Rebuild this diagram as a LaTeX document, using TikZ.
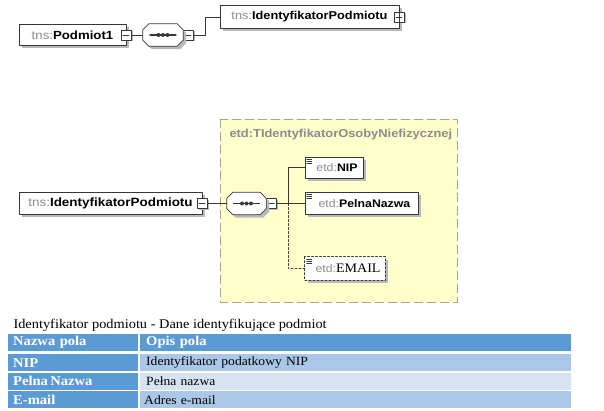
\documentclass[tikz,border=0pt]{standalone}
\usepackage{fontspec}
\setmainfont{Liberation Serif}
\newfontfamily\xsdfont[FakeStretch=1.12]{Liberation Sans}
\newfontfamily\tabfont[FakeStretch=1.08]{Liberation Serif}
\usepackage{tikz}
\usetikzlibrary{positioning}
\usetikzlibrary{shadows}

\definecolor{prefgray}{RGB}{140,140,140}
\definecolor{boxline}{RGB}{55,55,55}
\definecolor{shadowgray}{RGB}{185,185,185}
\definecolor{typeyellow}{RGB}{255,255,204}
\definecolor{typeborder}{RGB}{165,165,150}
\definecolor{hdrblue}{RGB}{91,155,213}
\definecolor{rowblue}{RGB}{170,199,232}
\definecolor{rowpale}{RGB}{213,227,243}

\tikzset{
  elem/.style={draw=boxline, line width=0.7pt, fill=white, minimum height=21pt, inner sep=0pt,
    font=\xsdfont\fontsize{11}{13}\selectfont,
    drop shadow={shadow xshift=3pt, shadow yshift=-3pt, fill=shadowgray, opacity=1}},
  seqbox/.style={minimum width=40pt, minimum height=22pt, inner sep=0pt},
  toggle/.style={draw=boxline, line width=0.7pt, fill=white, minimum size=10pt, inner sep=0pt,
    drop shadow={shadow xshift=1.5pt, shadow yshift=-1.5pt, fill=shadowgray, opacity=1}},
  conn/.style={draw=boxline, line width=0.7pt},
  headcell/.style={anchor=north west, fill=hdrblue, text=white, minimum height=17pt,
    inner ysep=0pt, align=left, font=\tabfont\fontsize{13.5}{14}\selectfont\bfseries},
  bodycell/.style={anchor=north west, minimum height=17pt, inner ysep=0pt, align=left,
    font=\tabfont\fontsize{12.6}{14}\selectfont}
}
\newcommand{\pref}[1]{\textcolor{prefgray}{#1}}
% octagon outline of a sequence compositor
\newcommand{\seqpath}[1]{([xshift=6pt]#1.north west) -- ([xshift=-6pt]#1.north east)
  -- ([yshift=-6pt]#1.north east) -- ([yshift=6pt]#1.south east) -- ([xshift=-6pt]#1.south east)
  -- ([xshift=6pt]#1.south west) -- ([yshift=6pt]#1.south west) -- ([yshift=-6pt]#1.north west) -- cycle}

\begin{document}
\begin{tikzpicture}[x=1pt, y=-1pt, line cap=round, line join=round]
        \useasboundingbox (0,0) rectangle (604,411);

        % --- top diagram: tns:Podmiot1 ---
        \node[elem, minimum width=107pt, font=\xsdfont\fontsize{11.8}{13}\selectfont] (pod) at (72.5,35)
            {\pref{tns:}\textbf{Podmiot1}};
        \node[toggle] (podm) at (126,35) {};
        \draw[conn] ([xshift=2.5pt]podm.west) -- ([xshift=-2.5pt]podm.east);

        \node[seqbox] (seqa) at (163,35) {};
        \node[toggle] (seqam) at (188,35) {};
        \draw[conn] ([xshift=2.5pt]seqam.west) -- ([xshift=-2.5pt]seqam.east);

        \node[elem, minimum width=179pt, minimum height=23pt, font=\xsdfont\fontsize{11.4}{13}\selectfont] (idpa) at (309.5,17)
            {\pref{tns:}\textbf{IdentyfikatorPodmiotu}\hspace{6pt}};
        \node[toggle] (idpap) at (399,17) {};
        \draw[conn] ([xshift=2.5pt]idpap.west) -- ([xshift=-2.5pt]idpap.east);
        \draw[conn] ([yshift=2.5pt]idpap.north) -- ([yshift=-2.5pt]idpap.south);

        \draw[conn] (podm.east) -- (seqa.west);
        \draw[conn] (seqam.east) -- ++(12,0) |- (idpa.west);

        % --- middle diagram: complex type ---
        \draw[typeborder, fill=typeyellow, line width=0.8pt, dash pattern=on 9pt off 4pt] (220,119) rectangle (457,302);
        \node[anchor=west, text=prefgray, font=\xsdfont\fontsize{11.5}{13}\selectfont\bfseries] (typename) at (226,135)
            {etd:TIdentyfikatorOsobyNiefizycznej};

        \node[elem, minimum width=183pt, minimum height=22pt, font=\xsdfont\fontsize{12}{14}\selectfont] (idpb) at (110.5,203.5)
            {\pref{tns:}\textbf{IdentyfikatorPodmiotu}};
        \node[toggle] (idpbm) at (202,203.5) {};
        \draw[conn] ([xshift=2.5pt]idpbm.west) -- ([xshift=-2.5pt]idpbm.east);

        \node[seqbox, minimum width=39pt, minimum height=22pt] (seqb) at (246.5,203.5) {};
        \node[toggle] (seqbm) at (271.5,203.5) {};
        \draw[conn] ([xshift=2.5pt]seqbm.west) -- ([xshift=-2.5pt]seqbm.east);

        % sequence octagons
        \foreach \s in {seqa, seqb} {
            \fill[shadowgray, transform canvas={shift={(3pt,-3pt)}}] \seqpath{\s};
            \draw[conn, fill=white] \seqpath{\s};
            \draw[boxline, line width=1.2pt] ([xshift=-13pt]\s.center) -- ([xshift=13pt]\s.center);
            \foreach \dx in {-4.5,0,4.5}
                \fill[boxline] ([xshift=\dx pt]\s.center) circle (2pt);
        }

        % child elements
        \node[elem, minimum width=58pt] (nip) at (334,167.5)
            {\hspace{6pt}\pref{etd:}\textbf{NIP}};
        \node[elem, minimum width=113pt, minimum height=22pt] (pelna) at (361.5,203.5)
            {\hspace{6pt}\pref{etd:}\textbf{PelnaNazwa}};
        \node[elem, draw=none, minimum width=80pt, minimum height=23pt] (email) at (345,268.5)
            {\hspace{6pt}\pref{etd:}{\tabfont\fontsize{13}{14}\selectfont EMAIL}};
        \draw[conn, dash pattern=on 2pt off 2pt] (email.north west) rectangle (email.south east);

        % simple-type marks
        \foreach \el in {nip, pelna, email}
            \foreach \k in {2.5,4.5,6.5}
                \draw[boxline, line width=0.6pt] ([shift={(2,\k)}]\el.north west) -- ++(5,0);

        \draw[conn] (idpbm.east) -- (seqb.west);
        \draw[conn] (seqbm.east) -- (pelna.west);
        \coordinate (fork) at (288,203.5);
        \draw[conn] (fork) |- (nip.west);
        \draw[conn, dash pattern=on 2pt off 2pt] (fork) |- (email.west);

        % --- table ---
        \node[anchor=west, font=\tabfont\fontsize{13.3}{14}\selectfont] (title) at (10,325)
            {Identyfikator podmiotu - Dane identyfikujące podmiot};

        \node[headcell, text width=120pt, inner xsep=5pt] (h1) at (8,334) {Nazwa pola};
        \node[headcell, text width=419pt, inner xsep=6pt] (h2) at (140,334) {Opis pola};

        \node[headcell, text width=120pt, inner xsep=5pt] (n1) at (8,354) {NIP};
        \node[bodycell, fill=rowblue, text width=419pt, inner xsep=6pt] (d1) at (140,354) {Identyfikator podatkowy NIP};

        \node[headcell, text width=120pt, inner xsep=5pt] (n2) at (8,372.5) {Pelna\,Nazwa};
        \node[bodycell, fill=rowpale, text width=419pt, inner xsep=6pt] (d2) at (140,372.5) {Pełna nazwa};

        \node[headcell, text width=120pt, inner xsep=5pt] (n3) at (8,391) {E-mail};
        \node[bodycell, fill=rowblue, text width=423pt, inner xsep=4pt] (d3) at (140,391) {Adres e-mail};
    \end{tikzpicture}
\end{document}
